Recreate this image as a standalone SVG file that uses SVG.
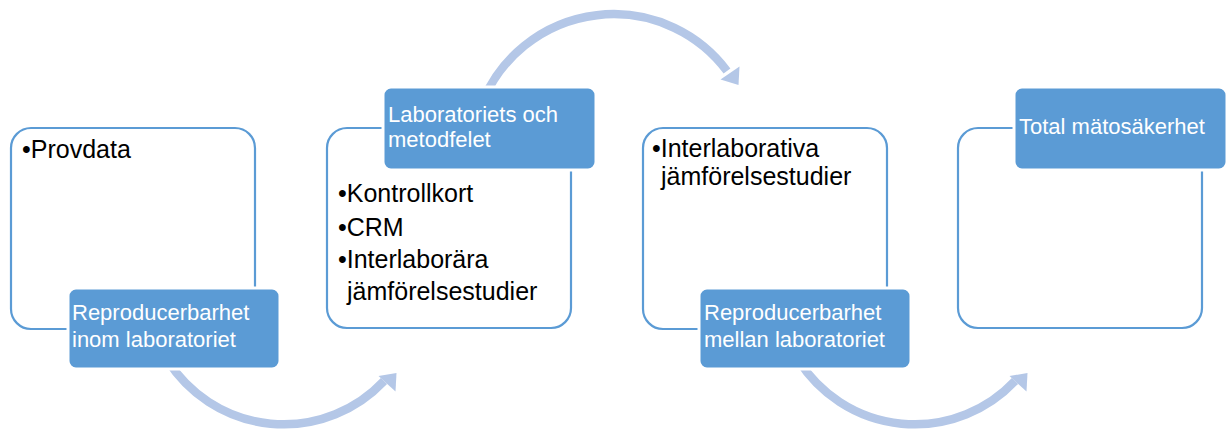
<svg xmlns="http://www.w3.org/2000/svg" width="1230" height="437" viewBox="0 0 1230 437">
<style>
.outline{fill:#ffffff;stroke:#5b9bd5;stroke-width:2.2}
.label{fill:#5b9bd5;stroke:#ffffff;stroke-width:3}
.arc{fill:none;stroke:#b4c7e7;stroke-width:8.5}
.head{fill:#b4c7e7}
.bt{font-family:"Liberation Sans",Arial,sans-serif;font-size:25px;fill:#000000}
.wt{font-family:"Liberation Sans",Arial,sans-serif;font-size:22px;fill:#ffffff}
</style>
<rect width="1230" height="437" fill="#ffffff"/>
<g id="outlines">
<rect id="box1" class="outline" x="11" y="128" width="244" height="201" rx="20"/>
<rect id="box2" class="outline" x="327" y="128" width="244" height="200" rx="20"/>
<rect id="box3" class="outline" x="643" y="128" width="244" height="201" rx="20"/>
<rect id="box4" class="outline" x="958" y="128" width="244" height="200" rx="20"/>
</g>
<g id="connectors">
<path class="arc" d="M 167.4 360 A 137.5 137.5 0 0 0 384 381"/>
<polygon class="head" points="396.5,373 395.5,391.5 378.5,376"/>
<path class="arc" d="M 483.3 100 A 141.7 141.7 0 0 1 727 71"/>
<polygon class="head" points="738.5,85 739.5,66.5 720.5,79.5"/>
<g transform="translate(631,0)">
<path class="arc" d="M 167.4 360 A 137.5 137.5 0 0 0 384 381"/>
<polygon class="head" points="396.5,373 395.5,391.5 378.5,376"/>
</g>
</g>
<g id="node1">
<text class="bt" x="22" y="158">•Provdata</text>
<rect class="label" x="68" y="288" width="212" height="81" rx="8"/>
<text class="wt" x="72" y="320">Reproducerbarhet</text>
<text class="wt" x="72" y="347">inom laboratoriet</text>
</g>
<g id="node2">
<rect class="label" x="383" y="87" width="213" height="83" rx="8"/>
<text class="wt" x="388" y="122">Laboratoriets och</text>
<text class="wt" x="388" y="147">metodfelet</text>
<text class="bt" x="338" y="202">•Kontrollkort</text>
<text class="bt" x="338" y="236">•CRM</text>
<text class="bt" x="338" y="268">•Interlaborära</text>
<text class="bt" x="347" y="300">jämförelsestudier</text>
</g>
<g id="node3">
<text class="bt" x="652" y="157">•Interlaborativa</text>
<text class="bt" x="661" y="185">jämförelsestudier</text>
<rect class="label" x="699" y="288" width="212" height="81" rx="8"/>
<text class="wt" x="704" y="320">Reproducerbarhet</text>
<text class="wt" x="704" y="347">mellan laboratoriet</text>
</g>
<g id="node4">
<rect class="label" x="1014" y="87" width="213" height="83" rx="8"/>
<text class="wt" x="1019" y="134">Total mätosäkerhet</text>
</g>
</svg>
